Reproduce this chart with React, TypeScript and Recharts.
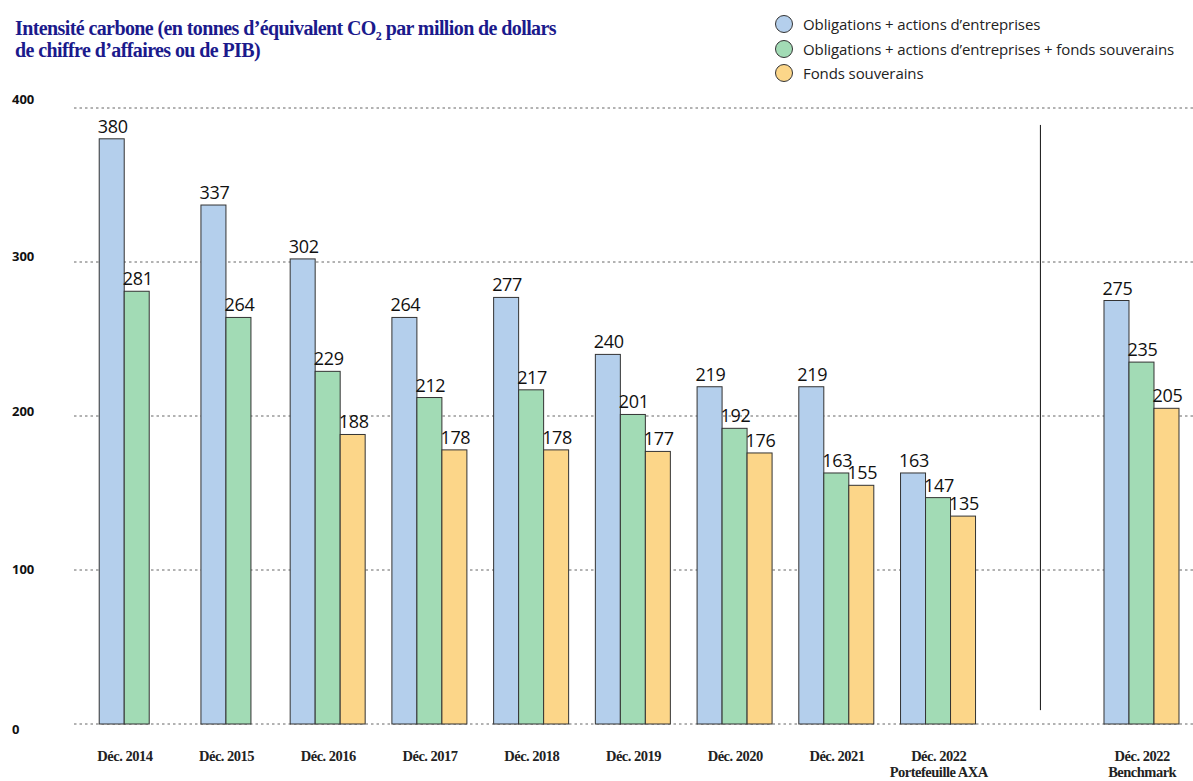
import React from "react"
import {
  BarChart,
  Bar,
  XAxis,
  YAxis,
  CartesianGrid,
  ReferenceLine,
} from "recharts"

// catégories (la colonne vide sépare le portefeuille du benchmark)
const categories = [
  "Déc. 2014",
  "Déc. 2015",
  "Déc. 2016",
  "Déc. 2017",
  "Déc. 2018",
  "Déc. 2019",
  "Déc. 2020",
  "Déc. 2021",
  "Déc. 2022",
  " ",
  "Déc. 2022 ",
]
const subLabels = ["", "", "", "", "", "", "", "", "Portefeuille AXA", "", "Benchmark"]

const entreprises = [380, 337, 302, 264, 277, 240, 219, 219, 163, null, 275]
const avecSouverains = [281, 264, 229, 212, 217, 201, 192, 163, 147, null, 235]
const souverains = [null, null, 188, 178, 178, 177, 176, 155, 135, null, 205]

const yTicks = [0, 100, 200, 300, 400]

const series = [
  { key: "entreprises", name: "Obligations + actions d’entreprises", color: "#b4cfec" },
  { key: "avecSouverains", name: "Obligations + actions d’entreprises + fonds souverains", color: "#a2dbb5" },
  { key: "souverains", name: "Fonds souverains", color: "#fcd689" },
]

const data = categories.map((cat, i) => ({
  cat,
  sub: subLabels[i],
  entreprises: entreprises[i],
  avecSouverains: avecSouverains[i],
  souverains: souverains[i],
}))

const W = 1193
const H = 781

// barre + valeur ; décalage d'une demi-barre quand "souverains" manque
const makeShape = (color: string) => (props: any) => {
  const { x, y, width, height, payload, value } = props
  if (height == null || height <= 0) return null
  const dx = payload && payload.souverains == null ? width / 2 : 0
  const v = Array.isArray(value) ? value[1] - value[0] : value
  return (
    <g>
      <rect x={x + dx} y={y} width={width} height={height} fill={color} stroke="#333" strokeWidth={1} />
      <text
        x={x + dx + width / 2 + 1}
        y={y - 6}
        textAnchor="middle"
        fontFamily="'Open Sans', 'Noto Sans', sans-serif"
        fontSize={18}
        letterSpacing={-0.3}
        fill="#111"
      >
        {v}
      </text>
    </g>
  )
}

const CategoryTick = (props: any) => {
  const { x, y, payload, index } = props
  const row = data[index]
  if (!row || !row.cat.trim()) return null
  const style = {
    fontFamily: "'Liberation Serif', serif",
    fontWeight: "bold" as const,
    fontSize: 14.5,
    fill: "#222",
    letterSpacing: -0.5,
  }
  return (
    <g>
      <text x={x} y={y + 29} textAnchor="middle" {...style}>
        {payload.value.trim()}
      </text>
      {row.sub && (
        <text x={x} y={y + 45} textAnchor="middle" {...style}>
          {row.sub}
        </text>
      )}
    </g>
  )
}

const yOffsets: Record<number, number> = { 400: -4, 300: -1, 200: 0, 100: 4, 0: 10 }

const ValueTick = (props: any) => {
  const { y, payload } = props
  return (
    <text
      x={12}
      y={y + (yOffsets[payload.value] ?? 0)}
      textAnchor="start"
      fontFamily="'Open Sans', 'Noto Sans', sans-serif"
      fontWeight="bold"
      fontSize={13}
      fill="#111"
    >
      {payload.value}
    </text>
  )
}

const LegendBox = () => (
  <div
    style={{
      position: "absolute",
      left: 775,
      top: 12,
      fontFamily: "'Open Sans', 'Noto Sans', sans-serif",
      fontSize: 15,
      color: "#222",
    }}
  >
    {series.map((s) => (
      <div key={s.key} style={{ display: "flex", alignItems: "center", height: 24.5 }}>
        <span
          style={{
            display: "inline-block",
            width: 16,
            height: 16,
            borderRadius: "50%",
            background: s.color,
            border: "1.3px solid #333",
            marginRight: 10,
          }}
        />
        <span style={{ letterSpacing: -0.1 }}>{s.name}</span>
      </div>
    ))}
  </div>
)

export default function App() {
  return (
    <div style={{ position: "absolute", left: 0, top: 0, width: W, height: H, overflow: "hidden", background: "#fff" }}>
      <div
        style={{
          position: "absolute",
          left: 15,
          top: 17,
          fontFamily: "'Liberation Serif', serif",
          fontWeight: "bold",
          fontSize: 20,
          lineHeight: "22px",
          color: "#1b1a8c",
          letterSpacing: -0.6,
        }}
      >
        Intensité carbone (en tonnes d’équivalent CO<sub style={{ fontSize: 12, lineHeight: 0 }}>2</sub> par million de dollars
        <br />
        de chiffre d’affaires ou de PIB)
      </div>
      <LegendBox />
      <BarChart
        width={W}
        height={H}
        data={data}
        margin={{ top: 108, right: 0, bottom: 0, left: 0 }}
        barCategoryGap="12.5%"
        barGap={0}
        style={{ position: "absolute", left: 0, top: 0 }}
      >
        <CartesianGrid vertical={false} stroke="#666" strokeDasharray="2.5 3" />
        <XAxis
          dataKey="cat"
          axisLine={false}
          tickLine={false}
          interval={0}
          height={57}
          tick={<CategoryTick />}
        />
        <YAxis
          domain={[0, 400]}
          ticks={yTicks}
          axisLine={false}
          tickLine={false}
          width={74}
          tick={<ValueTick />}
        />
        <ReferenceLine
          segment={[
            { x: " ", y: 389 },
            { x: " ", y: 9 },
          ]}
          stroke="#111"
          strokeWidth={1}
        />
        {series.map((s) => (
          <Bar
            key={s.key}
            dataKey={s.key}
            name={s.name}
            fill={s.color}
            shape={makeShape(s.color)}
            isAnimationActive={false}
          />
        ))}
      </BarChart>
    </div>
  )
}
